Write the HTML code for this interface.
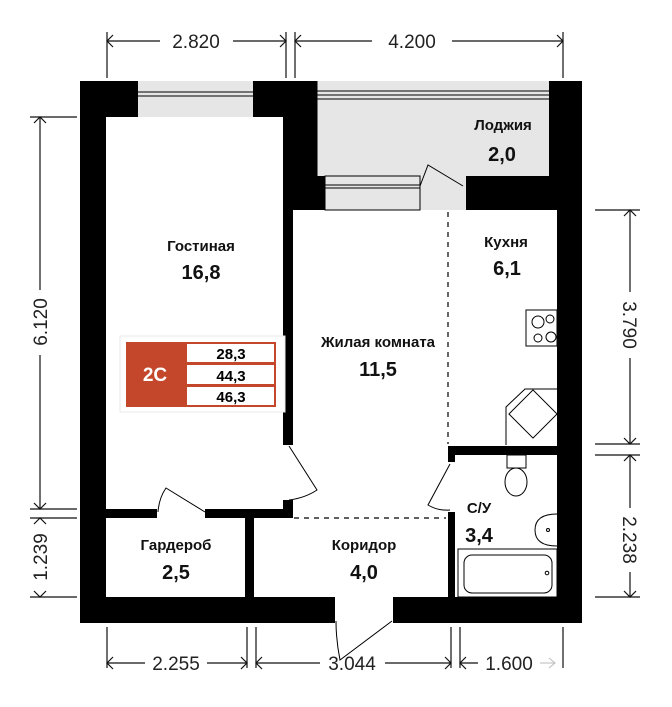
<!DOCTYPE html>
<html><head><meta charset="utf-8"><style>
html,body{margin:0;padding:0;background:#fff;}
svg{display:block}
text{font-family:"Liberation Sans",Arial,sans-serif;}
.l{font-size:15px;font-weight:bold;text-anchor:middle;fill:#111}
.n{font-size:20px;font-weight:bold;text-anchor:middle;fill:#111}
.d{font-size:19px;text-anchor:middle;fill:#222}
</style></head><body>
<svg width="672" height="707" viewBox="0 0 672 707" xmlns="http://www.w3.org/2000/svg">
<rect x="80" y="81" width="502" height="542" fill="#000"/>
<rect x="106" y="117" width="177" height="392" fill="#fff"/>
<rect x="293" y="210" width="264" height="236" fill="#fff"/>
<rect x="293" y="446" width="155" height="151" fill="#fff"/>
<rect x="455" y="455" width="102" height="142" fill="#fff"/>
<rect x="106" y="518" width="139" height="79" fill="#fff"/>
<rect x="254" y="518" width="194" height="79" fill="#fff"/>
<rect x="283" y="445" width="10" height="55" fill="#fff"/>
<rect x="157" y="509" width="48" height="9" fill="#fff"/>
<rect x="448" y="462" width="8" height="50" fill="#fff"/>
<rect x="335" y="597" width="58" height="26" fill="#fff"/>
<rect x="138" y="81" width="115" height="36" fill="#e6e6e6"/>
<line x1="138" y1="92" x2="253" y2="92" stroke="#000" stroke-width="1"/>
<line x1="138" y1="96" x2="253" y2="96" stroke="#000" stroke-width="1"/>
<rect x="317" y="81" width="232" height="95" fill="#e6e6e6"/>
<rect x="325" y="176" width="141" height="34" fill="#e6e6e6"/>
<rect x="325" y="176" width="95" height="34" fill="#e6e6e6" stroke="#000" stroke-width="1"/>
<line x1="325" y1="185" x2="420" y2="185" stroke="#000"/><line x1="325" y1="188" x2="420" y2="188" stroke="#000"/>
<line x1="317" y1="91" x2="549" y2="91" stroke="#000"/><line x1="317" y1="95" x2="549" y2="95" stroke="#000"/>
<line x1="317" y1="99" x2="549" y2="99" stroke="#000"/>
<line x1="317" y1="81" x2="317" y2="176" stroke="#000"/>
<path d="M420 186 L428 165 L463 186" fill="none" stroke="#000" stroke-width="1"/>
<line x1="448" y1="212" x2="448" y2="444" stroke="#000" stroke-dasharray="5,5" stroke-width="1.2"/>
<line x1="294" y1="518" x2="446" y2="518" stroke="#000" stroke-dasharray="5,5" stroke-width="1.2"/>
<path d="M289 446 L317 490 Q305 498 289 500" fill="none" stroke="#000"/>
<path d="M205 512 L166 488 Q159 498 158 512" fill="none" stroke="#000"/>
<path d="M450 464 L428 505 Q438 511 450 510" fill="none" stroke="#000"/>
<path d="M392 621 L340 660 Q336 640 336 621" fill="none" stroke="#000"/>
<rect x="526" y="310" width="31" height="36" fill="#fff" stroke="#000"/>
<circle cx="538" cy="322" r="6" fill="none" stroke="#000"/><circle cx="550" cy="319" r="4" fill="none" stroke="#000"/>
<circle cx="538" cy="338" r="4" fill="none" stroke="#000"/><circle cx="551" cy="337" r="5" fill="none" stroke="#000"/>
<path d="M557 389 L525 389 L506 407 L506 445" fill="none" stroke="#000"/>
<rect x="516" y="397" width="34" height="34" fill="#fff" stroke="#000" transform="rotate(45 533 414)"/>
<rect x="507" y="455" width="19" height="13" fill="#fff" stroke="#000"/>
<ellipse cx="516" cy="482" rx="11" ry="14" fill="#fff" stroke="#000"/>
<path d="M557 514 Q535 514 535 530 Q535 546 557 546" fill="#fff" stroke="#000"/>
<circle cx="548" cy="530" r="1.5" fill="none" stroke="#000"/>
<rect x="458" y="549" width="99" height="48" fill="#fff" stroke="#000"/>
<rect x="464" y="555" width="88" height="38" rx="8" fill="none" stroke="#000"/>
<circle cx="547" cy="573" r="1.8" fill="none" stroke="#000"/>
<text x="503" y="130" class="l">Лоджия</text><text x="502" y="161" class="n">2,0</text>
<text x="201" y="251" class="l">Гостиная</text><text x="201" y="279" class="n">16,8</text>
<text x="506" y="247" class="l">Кухня</text><text x="507" y="275" class="n">6,1</text>
<text x="378" y="347" class="l">Жилая комната</text><text x="378" y="376" class="n">11,5</text>
<text x="479" y="513" class="l">С/У</text><text x="479" y="542" class="n">3,4</text>
<text x="176" y="550" class="l">Гардероб</text><text x="176" y="579" class="n">2,5</text>
<text x="364" y="550" class="l">Коридор</text><text x="364" y="579" class="n">4,0</text>
<rect x="120" y="336" width="165" height="76" fill="#fff" stroke="#e8e8e8"/>
<rect x="126" y="342" width="150" height="65" fill="#c4472b"/>
<rect x="187" y="344" width="87" height="18" fill="#fff"/>
<rect x="187" y="365" width="87" height="19" fill="#fff"/>
<rect x="187" y="387" width="87" height="18" fill="#fff"/>
<text x="155" y="381" style="font-size:19px;font-weight:bold;fill:#fff;text-anchor:middle">2C</text>
<text x="231" y="359" style="font-size:15px;font-weight:bold;text-anchor:middle">28,3</text>
<text x="231" y="381" style="font-size:15px;font-weight:bold;text-anchor:middle">44,3</text>
<text x="231" y="402" style="font-size:15px;font-weight:bold;text-anchor:middle">46,3</text>
<g stroke="#111" stroke-width="1.2" fill="none">
<line x1="107" y1="32" x2="107" y2="78"/><line x1="286" y1="32" x2="286" y2="78"/>
<line x1="295" y1="32" x2="295" y2="78"/><line x1="563" y1="32" x2="563" y2="78"/>
<line x1="107" y1="41" x2="160" y2="41"/><line x1="233" y1="41" x2="286" y2="41"/>
<line x1="295" y1="41" x2="372" y2="41"/><line x1="452" y1="41" x2="563" y2="41"/>
<path d="M113 35 L107 41 L113 47 M280 35 L286 41 L280 47 M301 35 L295 41 L301 47 M557 35 L563 41 L557 47"/>
<line x1="107" y1="627" x2="107" y2="668"/><line x1="247" y1="627" x2="247" y2="668"/>
<line x1="256" y1="627" x2="256" y2="668"/><line x1="451" y1="627" x2="451" y2="668"/>
<line x1="460" y1="627" x2="460" y2="668"/><line x1="563" y1="627" x2="563" y2="668"/>
<line x1="107" y1="663" x2="145" y2="663"/><line x1="207" y1="663" x2="247" y2="663"/>
<line x1="256" y1="663" x2="320" y2="663"/><line x1="385" y1="663" x2="451" y2="663"/>
<line x1="460" y1="663" x2="478" y2="663"/>
<path d="M113 657 L107 663 L113 669 M241 657 L247 663 L241 669 M262 657 L256 663 L262 669 M445 657 L451 663 L445 669 M466 657 L460 663 L466 669"/>
<line x1="30" y1="117" x2="77" y2="117"/><line x1="30" y1="509" x2="77" y2="509"/>
<line x1="30" y1="518" x2="77" y2="518"/><line x1="30" y1="597" x2="77" y2="597"/>
<line x1="40" y1="117" x2="40" y2="290"/><line x1="40" y1="355" x2="40" y2="509"/>
<path d="M34 123 L40 117 L46 123 M34 503 L40 509 L46 503 M34 524 L40 518 L46 524 M34 591 L40 597 L46 591"/>
<line x1="595" y1="210" x2="640" y2="210"/><line x1="595" y1="444" x2="640" y2="444"/>
<line x1="595" y1="455" x2="640" y2="455"/><line x1="595" y1="597" x2="640" y2="597"/>
<line x1="630" y1="210" x2="630" y2="292"/><line x1="630" y1="358" x2="630" y2="444"/>
<line x1="630" y1="455" x2="630" y2="508"/><line x1="630" y1="572" x2="630" y2="597"/>
<path d="M624 216 L630 210 L636 216 M624 438 L630 444 L636 438 M624 461 L630 455 L636 461 M624 591 L630 597 L636 591"/>
</g>
<path d="M540 663 L555 663 M549 658 L555 663 L549 668" stroke="#bbb" fill="none"/>
<text x="196" y="48" class="d">2.820</text>
<text x="412" y="48" class="d">4.200</text>
<text x="176" y="670" class="d">2.255</text>
<text x="352" y="670" class="d">3.044</text>
<text x="509" y="670" class="d">1.600</text>
<text class="d" transform="translate(47 322) rotate(-90)">6.120</text>
<text class="d" transform="translate(47 557) rotate(-90)">1.239</text>
<text class="d" transform="translate(623 325) rotate(90)">3.790</text>
<text class="d" transform="translate(623 540) rotate(90)">2.238</text>
</svg>
</body></html>
